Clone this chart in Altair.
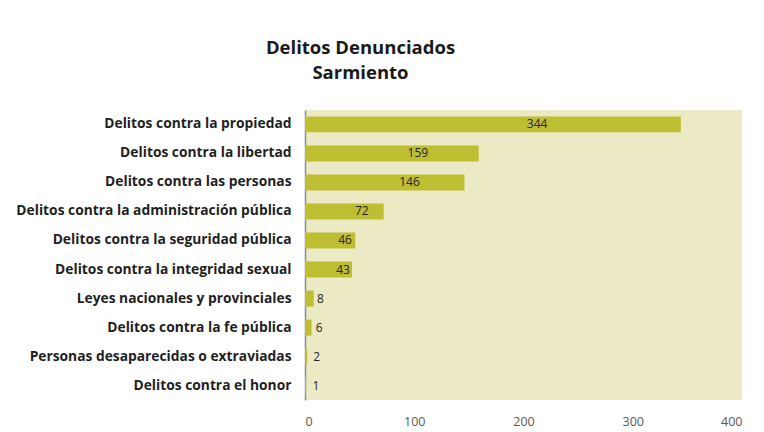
import altair as alt
import pandas as pd

categories = [
    "Delitos contra la propiedad",
    "Delitos contra la libertad",
    "Delitos contra las personas",
    "Delitos contra la administración pública",
    "Delitos contra la seguridad pública",
    "Delitos contra la integridad sexual",
    "Leyes nacionales y provinciales",
    "Delitos contra la fe pública",
    "Personas desaparecidas o extraviadas",
    "Delitos contra el honor",
]
values = [344, 159, 146, 72, 46, 43, 8, 6, 2, 1]
x_ticks = [0, 100, 200, 300, 400]

df = pd.DataFrame({"categoria": categories, "valor": values})

FONT = "Open Sans"

base = alt.Chart(df).encode(
    y=alt.Y(
        "categoria:N",
        sort=categories,
        title=None,
        scale=alt.Scale(paddingInner=0.45, paddingOuter=0.22),
        axis=alt.Axis(
            labelFont=FONT,
            labelFontWeight="bold",
            labelFontSize=13.8,
            labelColor="#1f1f1f",
            labelPadding=14,
            ticks=False,
            domain=True,
            domainColor="#8c8c8c",
            domainWidth=1.5,
            labelLimit=400,
        ),
    )
)

bars = base.mark_bar(color="#BDBE32").encode(
    x=alt.X(
        "valor:Q",
        title=None,
        scale=alt.Scale(domain=[0, 400], nice=False),
        axis=alt.Axis(
            values=x_ticks,
            grid=False,
            ticks=False,
            domain=False,
            labelFont=FONT,
            labelFontSize=12.5,
            labelColor="#595959",
            labelPadding=15,
        ),
    )
)

labels = base.transform_calculate(
    pos="datum.valor * 0.59 + 9.5"
).mark_text(
    font=FONT, fontSize=12, color="#262626", align="center", baseline="middle"
).encode(
    x=alt.X("pos:Q"),
    text=alt.Text("valor:Q"),
)

chart = (
    alt.layer(bars, labels)
    .properties(
        width=437,
        height=290,
        view=alt.ViewBackground(fill="#ECE9C5", strokeWidth=0),
        title=alt.TitleParams(
            text=["Delitos Denunciados", "Sarmiento"],
            font=FONT,
            fontSize=18.5,
            fontWeight="bold",
            color="#1a1a1a",
            anchor="middle",
            dx=-163,
            offset=28,
            lineHeight=25,
        ),
        padding={"left": 297, "top": 102, "right": 14, "bottom": 32},
        autosize=alt.AutoSizeParams(type="none"),
    )
    .configure(background="white")
)

chart.save("out.html", embed_options={"renderer": "svg", "actions": False})
